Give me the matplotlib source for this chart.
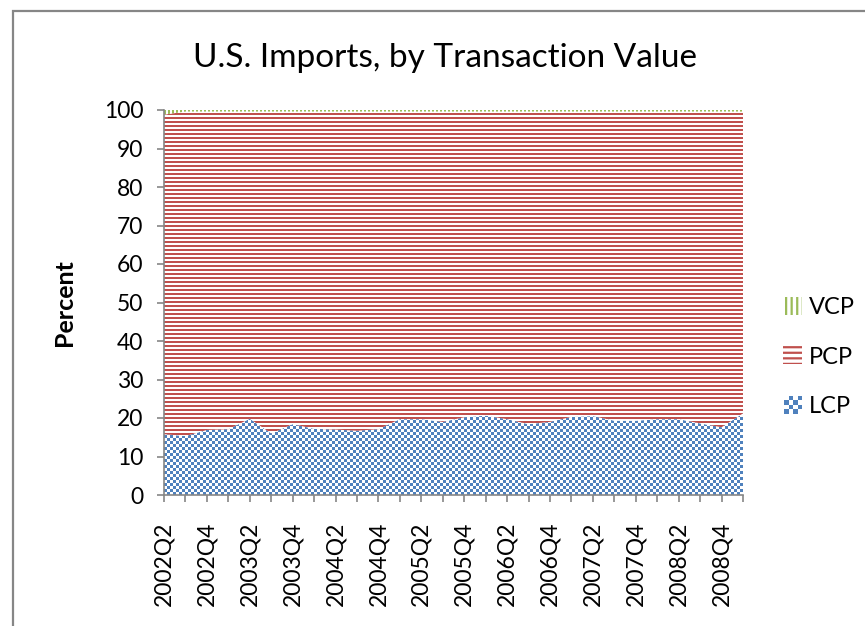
import numpy as np
import matplotlib
matplotlib.use('Agg')
import matplotlib.pyplot as plt
from matplotlib.patches import Patch, Rectangle
from matplotlib.colors import ListedColormap
from matplotlib.legend_handler import HandlerBase

# data
quarters = ['2002Q2', '2002Q3', '2002Q4', '2003Q1', '2003Q2', '2003Q3', '2003Q4',
            '2004Q1', '2004Q2', '2004Q3', '2004Q4', '2005Q1', '2005Q2', '2005Q3',
            '2005Q4', '2006Q1', '2006Q2', '2006Q3', '2006Q4', '2007Q1', '2007Q2',
            '2007Q3', '2007Q4', '2008Q1', '2008Q2', '2008Q3', '2008Q4', '2009Q1']
lcp = [15.8, 15.3, 16.9, 17.1, 19.8, 16.0, 18.4, 17.2, 17.0, 16.7, 17.1, 19.7, 19.7, 19.0,
       20.2, 20.6, 19.7, 18.4, 19.0, 20.3, 20.5, 19.3, 19.3, 19.7, 19.7, 18.6, 17.6, 21.2]
vcp = [1.2, 0.4, 0.4, 0.4, 0.4, 0.4, 0.4, 0.4, 0.4, 0.4, 0.4, 0.4, 0.4, 0.4,
       0.4, 0.4, 0.4, 0.4, 0.4, 0.4, 0.4, 0.4, 0.4, 0.4, 0.4, 0.4, 0.4, 0.4]

lcp = np.array(lcp)
vcp = np.array(vcp)
pcp = 100 - lcp - vcp
x = np.arange(len(quarters))

blue = '#4F81BD'
red = '#C0504D'
green = '#9BBB59'

plt.rcParams['font.family'] = ['Lato', 'DejaVu Sans']
plt.rcParams['hatch.linewidth'] = 1.6

fig = plt.figure(figsize=(8.65, 6.26), dpi=100)
ax = fig.add_axes([164/865, 1 - 495/626, 579/865, 385/626])

# pixel patterns (one cell per screen pixel of the plot area)
ny, nx = 385, 579
yy, xx = np.mgrid[0:ny, 0:nx]
checker = (((xx // 3) + (yy // 3)) % 2).astype(float)
hstripes = ((yy % 4) < 2).astype(float)
vstripes = ((xx % 4) < 2).astype(float)


def patterned_area(y0, y1, pattern, color):
    area = ax.fill_between(x, y0, y1, facecolor='white', linewidth=0)
    img = ax.imshow(pattern, cmap=ListedColormap(['white', color]),
                    extent=(x[0], x[-1], 0, 100), aspect='auto',
                    interpolation='nearest', origin='lower', zorder=2)
    img.set_clip_path(area.get_paths()[0], transform=ax.transData)


patterned_area(0, lcp, checker, blue)
patterned_area(lcp, lcp + pcp, hstripes, red)
patterned_area(lcp + pcp, 100, vstripes, green)

ax.set_xlim(x[0], x[-1])
ax.set_ylim(0, 100)
ax.set_yticks(np.arange(0, 101, 10))
ax.set_xticks(x)
ax.set_xticklabels([q if i % 2 == 0 else '' for i, q in enumerate(quarters)], rotation=90)

for s in ['top', 'right']:
    ax.spines[s].set_visible(False)
for s in ['left', 'bottom']:
    ax.spines[s].set_color('#868686')
    ax.spines[s].set_linewidth(1.2)
ax.tick_params(axis='both', direction='out', length=5, width=1.2, color='#868686',
               labelsize=16.5, labelcolor='black')
ax.tick_params(axis='x', pad=14)
ax.tick_params(axis='y', pad=10)

ax.set_ylabel('Percent', fontsize=18, fontweight='bold', labelpad=20)
fig.text(445/865, 1 - 58/626, 'U.S. Imports, by Transaction Value', fontsize=24,
         ha='center', va='center')


# legend: small checker swatch for LCP
class CheckerHandler(HandlerBase):
    def create_artists(self, legend, orig_handle, xdescent, ydescent, width, height,
                       fontsize, trans):
        arts = []
        n = 4
        s = height / n
        x0 = xdescent + width - height
        for i in range(n):
            for j in range(n):
                if (i + j) % 2 == 0:
                    arts.append(Rectangle((x0 + i * s, -ydescent + j * s), s, s,
                                          facecolor=blue, edgecolor='none', transform=trans))
        return arts


class CheckerProxy(object):
    pass


handles = [Patch(facecolor='white', edgecolor=green, hatch='|||', linewidth=0),
           Patch(facecolor='white', edgecolor=red, hatch='---', linewidth=0),
           CheckerProxy()]
leg = fig.legend(handles, ['VCP', 'PCP', 'LCP'], loc='center left',
                 bbox_to_anchor=(762/865, 1 - 357/626), frameon=False, fontsize=17,
                 handlelength=0.8, handleheight=0.8, handletextpad=0.3, labelspacing=1.2,
                 handler_map={CheckerProxy: CheckerHandler()})

# chart-area border (left and top edges visible in the reference)
fig.patches.append(Rectangle((13/865, -0.05), 1.0, 1 - 11/626 + 0.05, transform=fig.transFigure,
                             fill=False, edgecolor='#868686', linewidth=1.6))

fig.savefig('out.png', dpi=100)
